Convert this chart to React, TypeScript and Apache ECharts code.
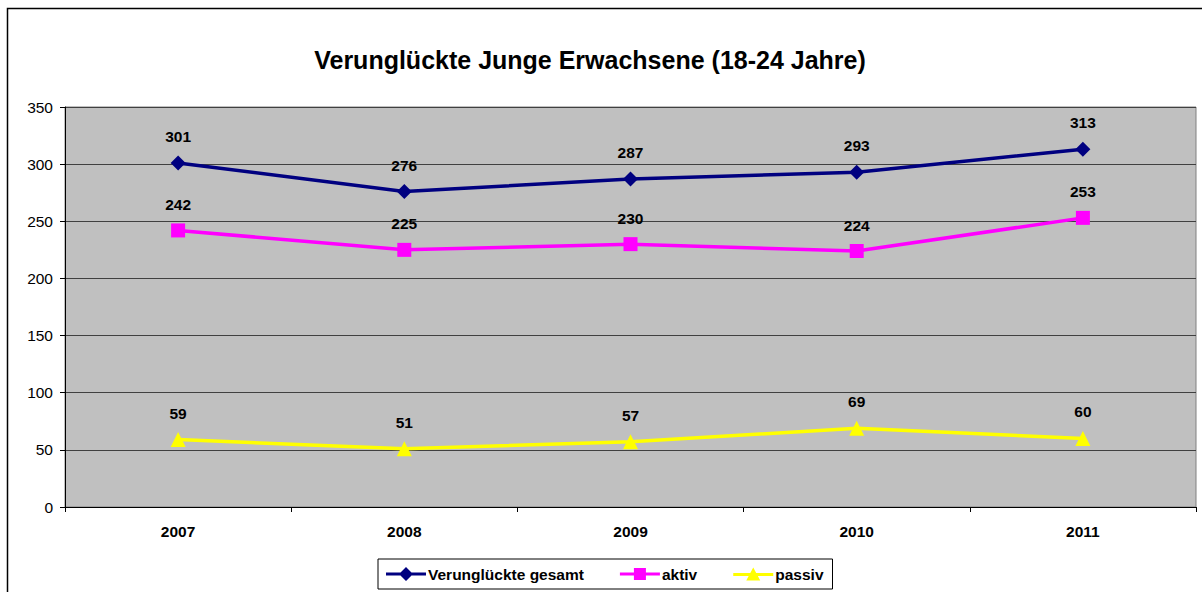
import React, { useEffect, useRef } from "react";
import * as echarts from "echarts";

const years = ["2007", "2008", "2009", "2010", "2011"];
const gesamt = [301, 276, 287, 293, 313];
const aktiv = [242, 225, 230, 224, 253];
const passiv = [59, 51, 57, 69, 60];
const seriesNames = ["Verunglückte gesamt", "aktiv", "passiv"];
const titleText = "Verunglückte Junge Erwachsene (18-24 Jahre)";

const iconDiamond = "path://M0,5.5 H40 V8.5 H0 Z M20,0 L27,7 L20,14 L13,7 Z";
const iconSquare = "path://M0,5.5 H40 V8.5 H0 Z M14,1 H26 V13 H14 Z";
const iconTriangle = "path://M0,5.5 H40 V8.5 H0 Z M20,0 L27,13 L13,13 Z";

export default function App() {
  const ref = useRef<HTMLDivElement>(null);
  useEffect(() => {
    if (!ref.current) return;
    const chart = echarts.init(ref.current, null, { renderer: "svg" });
    const font = "Arial, 'Liberation Sans', sans-serif";
    const labelCfg = {
      show: true,
      position: "top",
      distance: 11,
      fontSize: 15.5,
      fontWeight: "bold",
      color: "#000",
      fontFamily: font,
    };
    chart.setOption({
      animation: false,
      backgroundColor: "#fff",
      textStyle: { fontFamily: font },
      title: {
        text: titleText,
        left: 585,
        top: 42,
        textAlign: "center",
        textStyle: { fontSize: 25, fontWeight: "bold", color: "#000", fontFamily: font },
      },
      graphic: [
        {
          type: "rect",
          shape: { x: 7.5, y: 8.5, width: 1200, height: 600 },
          style: { fill: "none", stroke: "#000", lineWidth: 1.5 },
          silent: true,
          z: 100,
        },
      ],
      grid: {
        left: 65,
        right: 6,
        top: 107,
        bottom: 85,
        show: true,
        backgroundColor: "#C0C0C0",
        borderColor: "#808080",
        borderWidth: 1,
      },
      legend: {
        left: 378,
        top: 559,
        padding: [7, 9, 7, 8],
        borderColor: "#000",
        borderWidth: 1,
        itemWidth: 40,
        itemHeight: 14,
        itemGap: 36,
        textStyle: { fontSize: 15.5, fontWeight: "bold", color: "#000", fontFamily: font, padding: [0, 0, 0, -3] },
        data: [
          { name: seriesNames[0], icon: iconDiamond },
          { name: seriesNames[1], icon: iconSquare },
          { name: seriesNames[2], icon: iconTriangle },
        ],
      },
      xAxis: {
        type: "category",
        data: years,
        boundaryGap: true,
        axisLine: { show: true, lineStyle: { color: "#000", width: 1 } },
        axisTick: { show: true, length: 5, lineStyle: { color: "#000" } },
        axisLabel: { fontSize: 15.5, fontWeight: "bold", color: "#000", margin: 16, fontFamily: font },
        splitLine: { show: false },
      },
      yAxis: {
        type: "value",
        min: 0,
        max: 350,
        interval: 50,
        axisLine: { show: true, lineStyle: { color: "#000", width: 1 } },
        axisTick: { show: true, length: 5, lineStyle: { color: "#000" } },
        axisLabel: { fontSize: 15.5, color: "#000", margin: 12, fontFamily: font },
        splitLine: { show: true, lineStyle: { color: "#404040", width: 1 } },
      },
      series: [
        {
          name: seriesNames[0],
          type: "line",
          data: gesamt,
          symbol: "diamond",
          symbolSize: 15,
          lineStyle: { color: "#000080", width: 3.5 },
          itemStyle: { color: "#000080" },
          label: labelCfg,
        },
        {
          name: seriesNames[1],
          type: "line",
          data: aktiv,
          symbol: "rect",
          symbolSize: 14,
          lineStyle: { color: "#FF00FF", width: 3.5 },
          itemStyle: { color: "#FF00FF" },
          label: labelCfg,
        },
        {
          name: seriesNames[2],
          type: "line",
          data: passiv,
          symbol: "triangle",
          symbolSize: 15,
          lineStyle: { color: "#FFFF00", width: 3.5 },
          itemStyle: { color: "#FFFF00" },
          label: labelCfg,
        },
      ],
    });
    return () => chart.dispose();
  }, []);
  return (
    <div
      ref={ref}
      style={{ position: "fixed", left: 0, top: 0, width: 1202, height: 592 }}
    />
  );
}
